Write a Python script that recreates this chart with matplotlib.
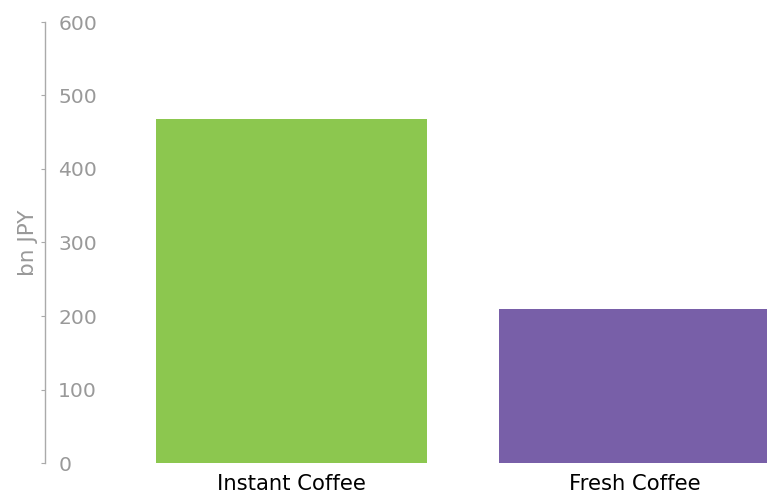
import matplotlib
matplotlib.use("Agg")
import matplotlib.pyplot as plt

categories = ["Instant Coffee", "Fresh Coffee"]
values = [468, 209]
colors = ["#8CC74F", "#785FA8"]

fig = plt.figure(figsize=(7.67, 4.94), dpi=100)
ax = fig.add_axes([45 / 767, 1 - 463 / 494, 1 - 45 / 767, (463 - 22) / 494])

x = range(len(categories))
ax.bar(x, values, width=0.79, color=colors)

ax.set_xlim(-0.717, 1.386)
ax.set_ylim(0, 600)
ax.set_yticks(range(0, 601, 100))
ax.set_xticks(list(x))
ax.set_xticklabels(categories, fontsize=15.2, color="black")

for s in ["top", "right", "bottom"]:
    ax.spines[s].set_visible(False)
ax.spines["left"].set_color("#AAAAAA")
ax.spines["left"].set_linewidth(1)

ax.tick_params(axis="x", length=0, pad=8)
ax.tick_params(axis="y", direction="out", length=3, color="#AAAAAA",
               labelcolor="#999999", labelsize=14.6, pad=-12.5)
for lab in ax.get_yticklabels():
    lab.set_horizontalalignment("left")

ax.set_ylabel("bn JPY", color="#999999", fontsize=15.5, labelpad=2)

fig.savefig("out.png", dpi=100, facecolor="white")
